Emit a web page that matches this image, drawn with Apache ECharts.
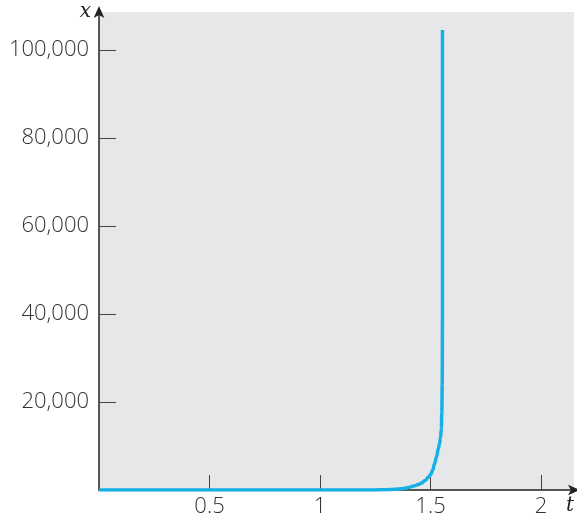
<!DOCTYPE html>
<html><head><meta charset="utf-8">
<script src="https://cdn.jsdelivr.net/npm/echarts@6/dist/echarts.min.js"></script>
<style>html,body{margin:0;padding:0;background:#fff}#c{width:577px;height:518px}</style>
</head><body><div id="c"></div>
<script>
const tValues = [0, 0.5, 1.0, 1.2, 1.28, 1.32, 1.355, 1.38, 1.4, 1.423, 1.445, 1.459, 1.475, 1.491, 1.5, 1.51, 1.518, 1.527, 1.536, 1.541, 1.545, 1.549, 1.551, 1.553, 1.554, 1.554];
const xValues = [0, 0, 0, 10, 40, 90, 200, 350, 550, 900, 1250, 1580, 2150, 2940, 3500, 4500, 5880, 7500, 9500, 10600, 11800, 14000, 17500, 24000, 40000, 104500];
const xTicks = [0.5, 1, 1.5, 2];
const yTicks = [20000, 40000, 60000, 80000, 100000];

const chart = echarts.init(document.getElementById('c'));
const labelFont = {fontFamily: 'Open Sans', fontWeight: 300, fontSize: 22, color: '#333'};
chart.setOption({
  animation: false,
  grid: {left: 99, right: 1, top: 12, bottom: 26, show: true, backgroundColor: '#e6e7e9', borderWidth: 0},
  xAxis: {
    type: 'value', min: 0, max: 2.149, interval: 0.5,
    axisLine: {show: true, lineStyle: {color: '#222', width: 1.5}, symbol: ['none', 'arrow'], symbolSize: [8, 12], symbolOffset: [0, 6]},
    axisTick: {show: true, inside: true, length: 15, lineStyle: {color: '#444'}},
    splitLine: {show: false},
    axisLabel: Object.assign({showMinLabel: false, showMaxLabel: false, margin: 6,
      formatter: v => xTicks.includes(v) ? String(v) : ''}, labelFont),
    name: 't', nameLocation: 'end', nameGap: -8,
    nameTextStyle: {fontFamily: 'DejaVu Serif', fontStyle: 'italic', fontSize: 20, color: '#222', verticalAlign: 'top', padding: [6, 0, 0, 0]}
  },
  yAxis: {
    type: 'value', min: 0, max: 108600, interval: 20000,
    axisLine: {show: true, lineStyle: {color: '#222', width: 1.5}, symbol: ['none', 'arrow'], symbolSize: [8, 12], symbolOffset: [0, 6]},
    axisTick: {show: true, inside: true, length: 17, lineStyle: {color: '#444'}},
    splitLine: {show: false},
    axisLabel: Object.assign({showMinLabel: false, showMaxLabel: false, margin: 10,
      formatter: v => yTicks.includes(v) ? v.toLocaleString('en-US') : ''}, labelFont),
    name: 'x', nameLocation: 'end', nameGap: -10,
    nameTextStyle: {fontFamily: 'DejaVu Serif', fontStyle: 'italic', fontSize: 20, color: '#222', align: 'right', padding: [0, 8, 0, 0]}
  },
  series: [{
    type: 'line', showSymbol: false, smooth: 0.4, smoothMonotone: 'x',
    data: tValues.map((t, i) => [t, xValues[i]]),
    lineStyle: {color: '#17b0e6', width: 3.5, join: 'round'}, z: 1
  }]
});
</script></body></html>
